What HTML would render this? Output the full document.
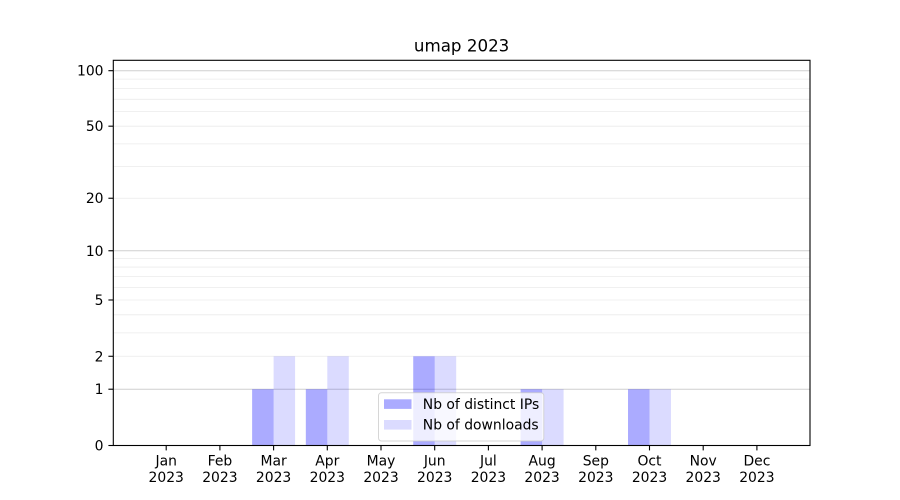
<!DOCTYPE html>
<html>
<head>
<meta charset="utf-8">
<style>
html,body{margin:0;padding:0;background:#fff;}
svg{display:block;font-family:"DejaVu Sans","Liberation Sans",sans-serif;}
</style>
</head>
<body>
<svg width="900" height="500" viewBox="0 0 900 500" xmlns="http://www.w3.org/2000/svg">
<rect width="900" height="500" fill="#fff"/>
<!-- minor grid -->
<g stroke="#ebebeb" stroke-width="0.8">
<line x1="113.3" x2="810" y1="356.28" y2="356.28"/>
<line x1="113.3" x2="810" y1="332.91" y2="332.91"/>
<line x1="113.3" x2="810" y1="314.79" y2="314.79"/>
<line x1="113.3" x2="810" y1="299.99" y2="299.99"/>
<line x1="113.3" x2="810" y1="287.47" y2="287.47"/>
<line x1="113.3" x2="810" y1="276.62" y2="276.62"/>
<line x1="113.3" x2="810" y1="267.06" y2="267.06"/>
<line x1="113.3" x2="810" y1="258.5" y2="258.5"/>
<line x1="113.3" x2="810" y1="198.24" y2="198.24"/>
<line x1="113.3" x2="810" y1="166.62" y2="166.62"/>
<line x1="113.3" x2="810" y1="143.91" y2="143.91"/>
<line x1="113.3" x2="810" y1="126.18" y2="126.18"/>
<line x1="113.3" x2="810" y1="111.64" y2="111.64"/>
<line x1="113.3" x2="810" y1="99.31" y2="99.31"/>
<line x1="113.3" x2="810" y1="88.61" y2="88.61"/>
<line x1="113.3" x2="810" y1="79.16" y2="79.16"/>
</g>
<!-- major grid -->
<g stroke="#cfcfcf" stroke-width="1">
<line x1="113.3" x2="810" y1="389.21" y2="389.21"/>
<line x1="113.3" x2="810" y1="250.76" y2="250.76"/>
<line x1="113.3" x2="810" y1="70.69" y2="70.69"/>
</g>
<!-- bars: IPs -->
<g fill="#0000ff" fill-opacity="0.33">
<rect x="252.12" y="389.21" width="21.48" height="56.29"/>
<rect x="305.82" y="389.21" width="21.48" height="56.29"/>
<rect x="413.22" y="356.28" width="21.48" height="89.22"/>
<rect x="520.62" y="389.21" width="21.48" height="56.29"/>
<rect x="628.02" y="389.21" width="21.48" height="56.29"/>
</g>
<!-- bars: downloads -->
<g fill="#0000ff" fill-opacity="0.14">
<rect x="273.6" y="356.28" width="21.48" height="89.22"/>
<rect x="327.3" y="356.28" width="21.48" height="89.22"/>
<rect x="434.7" y="356.28" width="21.48" height="89.22"/>
<rect x="542.1" y="389.21" width="21.48" height="56.29"/>
<rect x="649.5" y="389.21" width="21.48" height="56.29"/>
</g>
<!-- spines -->
<rect x="113.3" y="60.3" width="696.7" height="385.2" fill="none" stroke="#000" stroke-width="1.1"/>
<!-- y ticks -->
<g stroke="#000" stroke-width="1.1">
<line x1="108.4" x2="113.3" y1="445.5" y2="445.5"/>
<line x1="108.4" x2="113.3" y1="389.21" y2="389.21"/>
<line x1="108.4" x2="113.3" y1="356.28" y2="356.28"/>
<line x1="108.4" x2="113.3" y1="299.99" y2="299.99"/>
<line x1="108.4" x2="113.3" y1="250.76" y2="250.76"/>
<line x1="108.4" x2="113.3" y1="198.24" y2="198.24"/>
<line x1="108.4" x2="113.3" y1="126.18" y2="126.18"/>
<line x1="108.4" x2="113.3" y1="70.69" y2="70.69"/>
</g>
<g font-size="13.9" text-anchor="end" fill="#000">
<text x="103.5" y="450.5">0</text>
<text x="103.5" y="394.2">1</text>
<text x="103.5" y="361.3">2</text>
<text x="103.5" y="305">5</text>
<text x="103.5" y="255.8">10</text>
<text x="103.5" y="203.2">20</text>
<text x="103.5" y="131.2">50</text>
<text x="103.5" y="75.7">100</text>
</g>
<!-- x ticks -->
<g stroke="#000" stroke-width="1.1">
<line x1="166.2" x2="166.2" y1="445.5" y2="450.4"/>
<line x1="219.9" x2="219.9" y1="445.5" y2="450.4"/>
<line x1="273.6" x2="273.6" y1="445.5" y2="450.4"/>
<line x1="327.3" x2="327.3" y1="445.5" y2="450.4"/>
<line x1="381" x2="381" y1="445.5" y2="450.4"/>
<line x1="434.7" x2="434.7" y1="445.5" y2="450.4"/>
<line x1="488.4" x2="488.4" y1="445.5" y2="450.4"/>
<line x1="542.1" x2="542.1" y1="445.5" y2="450.4"/>
<line x1="595.8" x2="595.8" y1="445.5" y2="450.4"/>
<line x1="649.5" x2="649.5" y1="445.5" y2="450.4"/>
<line x1="703.2" x2="703.2" y1="445.5" y2="450.4"/>
<line x1="756.9" x2="756.9" y1="445.5" y2="450.4"/>
</g>
<g font-size="13.9" text-anchor="middle" fill="#000">
<text x="166.2" y="465.5">Jan</text><text x="166.2" y="481.8">2023</text>
<text x="219.9" y="465.5">Feb</text><text x="219.9" y="481.8">2023</text>
<text x="273.6" y="465.5">Mar</text><text x="273.6" y="481.8">2023</text>
<text x="327.3" y="465.5">Apr</text><text x="327.3" y="481.8">2023</text>
<text x="381" y="465.5">May</text><text x="381" y="481.8">2023</text>
<text x="434.7" y="465.5">Jun</text><text x="434.7" y="481.8">2023</text>
<text x="488.4" y="465.5">Jul</text><text x="488.4" y="481.8">2023</text>
<text x="542.1" y="465.5">Aug</text><text x="542.1" y="481.8">2023</text>
<text x="595.8" y="465.5">Sep</text><text x="595.8" y="481.8">2023</text>
<text x="649.5" y="465.5">Oct</text><text x="649.5" y="481.8">2023</text>
<text x="703.2" y="465.5">Nov</text><text x="703.2" y="481.8">2023</text>
<text x="756.9" y="465.5">Dec</text><text x="756.9" y="481.8">2023</text>
</g>
<!-- title -->
<text x="461.6" y="51.5" font-size="16.7" text-anchor="middle" fill="#000">umap 2023</text>
<!-- legend -->
<rect x="378.5" y="392.7" width="165.3" height="48.3" rx="3" ry="3" fill="#fff" fill-opacity="0.8" stroke="#cccccc" stroke-opacity="0.8" stroke-width="1"/>
<rect x="384" y="399.3" width="27.5" height="9.6" fill="#0000ff" fill-opacity="0.33"/>
<rect x="384" y="420" width="27.5" height="9.6" fill="#0000ff" fill-opacity="0.14"/>
<g font-size="13.9" fill="#000">
<text x="422.8" y="409">Nb of distinct IPs</text>
<text x="422.8" y="429.7">Nb of downloads</text>
</g>
</svg>
</body>
</html>
